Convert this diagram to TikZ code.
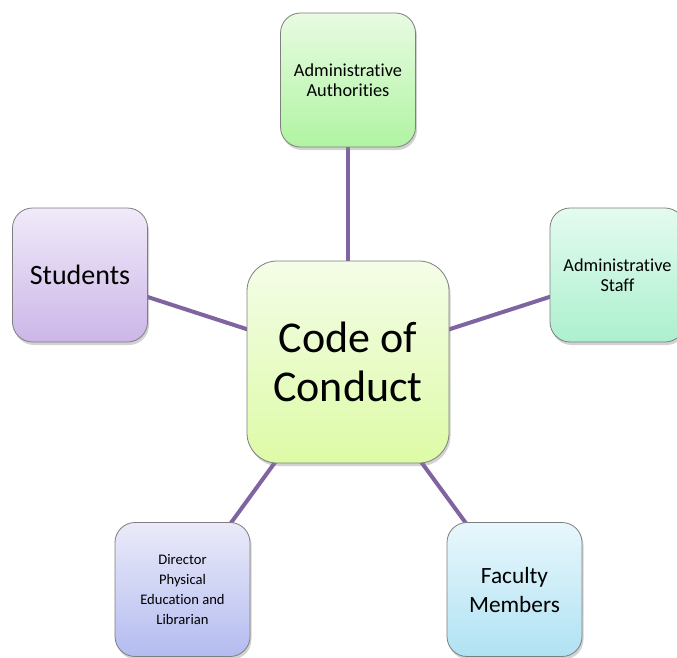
\documentclass[tikz,border=0pt]{standalone}
\usepackage{fontspec}
\setmainfont{Carlito}[Ligatures={NoCommon,NoRare}]
\usetikzlibrary{shadows,backgrounds}
\definecolor{linkc}{HTML}{8064A2}
\definecolor{bordc}{HTML}{7F7F7F}
\tikzset{
  box/.style={draw=bordc, line width=0.8pt, rounded corners=20pt, minimum width=135pt, minimum height=134pt,
    inner sep=2pt, align=center, text=black,
    drop shadow={opacity=0.35, shadow xshift=1.5pt, shadow yshift=-3pt}},
  small/.style={font=\fontsize{18.3}{20}\selectfont},
  tiny/.style={font=\fontsize{14.6}{20}\selectfont},
  mid/.style={font=\fontsize{23.3}{29}\selectfont},
  big/.style={font=\fontsize{44}{49}\selectfont},
  link/.style={draw=linkc, line width=4pt},
}
\begin{document}
\begin{tikzpicture}[x=1pt,y=-1pt]
\clip (0,0) rectangle (677,657);
\node[box, small, top color={rgb,255:red,232;green,251;blue,226}, bottom color={rgb,255:red,176;green,244;blue,162}] (auth) at (348,80) {Administrative\\Authorities};
\node[box, small, top color={rgb,255:red,228;green,251;blue,240}, bottom color={rgb,255:red,172;green,240;blue,206}] (staff) at (617.5,275) {Administrative\\Staff};
\node[box, mid, font=\fontsize{28}{29}\selectfont, top color={rgb,255:red,240;green,234;blue,249}, bottom color={rgb,255:red,204;green,182;blue,232}] (stud) at (80,275) {Students};
\node[box, tiny, top color={rgb,255:red,234;green,234;blue,249}, bottom color={rgb,255:red,180;green,188;blue,240}] (dir) at (182.5,589.5) {Director\\Physical\\Education and\\Librarian};
\node[box, mid, top color={rgb,255:red,232;green,247;blue,252}, bottom color={rgb,255:red,176;green,226;blue,243}] (fac) at (514.5,589.5) {Faculty\\Members};
\node[box, big, rounded corners=30pt, minimum width=202pt, minimum height=202pt,
  top color={rgb,255:red,244;green,253;blue,232}, bottom color={rgb,255:red,221;green,251;blue,166}] (code) at (348,362) {Code of\\Conduct};
\begin{pgfonlayer}{background}
\fill[white] (0,0) rectangle (677,657);
\draw[link] (code.center) -- (auth.center);
\draw[link] (code.center) -- (staff.center);
\draw[link] (code.center) -- (stud.center);
\draw[link] (code.center) -- (dir.center);
\draw[link] (code.center) -- (fac.center);
\end{pgfonlayer}
\end{tikzpicture}
\end{document}
